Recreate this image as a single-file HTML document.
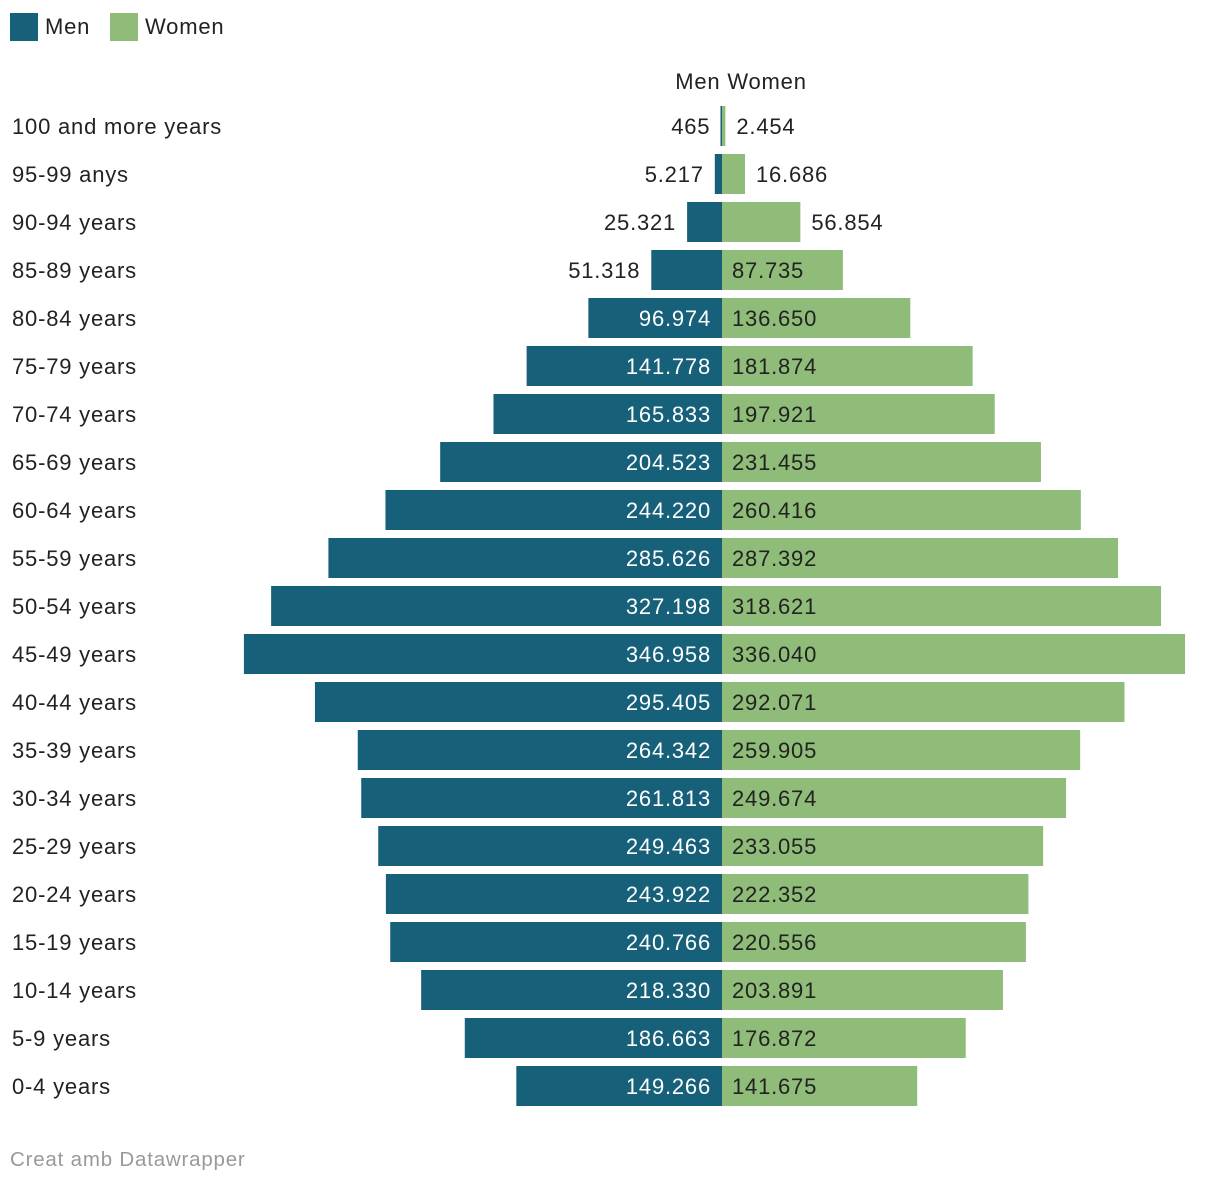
<!DOCTYPE html>
<html><head><meta charset="utf-8"><style>
body{margin:0;background:#fff;font-family:"Liberation Sans",sans-serif;color:#222}
#c{position:relative;width:1220px;height:1184px}
text{letter-spacing:0.8px}
</style></head><body>
<div id="c">
<svg id="s" width="1220" height="1184" xmlns="http://www.w3.org/2000/svg">
<rect x="10" y="13" width="28" height="28" fill="#17607a"/>
<text x="45" y="34" font-size="22" fill="#222">Men</text>
<rect x="110" y="13" width="28" height="28" fill="#8fbc78"/>
<text x="145" y="34" font-size="22" fill="#222">Women</text>
<text x="741" y="89" font-size="22" text-anchor="middle" fill="#222">Men Women</text>
<text x="10" y="1166" font-size="20.5" fill="#999">Creat amb Datawrapper</text>
<g id="bars"></g>
</svg>
</div>
<script>
const categories=["100 and more years","95-99 anys","90-94 years","85-89 years","80-84 years","75-79 years","70-74 years","65-69 years","60-64 years","55-59 years","50-54 years","45-49 years","40-44 years","35-39 years","30-34 years","25-29 years","20-24 years","15-19 years","10-14 years","5-9 years","0-4 years"];
const men=[465,5217,25321,51318,96974,141778,165833,204523,244220,285626,327198,346958,295405,264342,261813,249463,243922,240766,218330,186663,149266];
const women=[2454,16686,56854,87735,136650,181874,197921,231455,260416,287392,318621,336040,292071,259905,249674,233055,222352,220556,203891,176872,141675];
const NS="http://www.w3.org/2000/svg";
const cx=722, k=0.001378, y0=126, step=48, bh=40;
const fmt=v=>v.toLocaleString('de-DE');
const xs=v=>v*k;
const yc=i=>y0+i*step;
const g=document.getElementById('bars');
function mk(t,a){const e=document.createElementNS(NS,t);for(const n in a)e.setAttribute(n,a[n]);g.appendChild(e);return e;}
categories.forEach((c,i)=>{
  const y=yc(i);
  const l=mk('text',{x:12,y:y+8,'font-size':22,fill:'#222'});l.textContent=c;
  
  
  const ww=xs(women[i]);
  const rw=mk('rect',{x:cx,y:y-bh/2,width:Math.max(ww,1.5),height:bh,fill:'#8fbc78'});
  
  
  const wm=xs(men[i]);
  const rm=mk('rect',{x:cx-Math.max(wm,1.5),y:y-bh/2,width:Math.max(wm,1.5),height:bh,fill:'#17607a'});
  
  
  const inM=wm>100;
  const tm=mk('text',{x:inM?cx-11:cx-wm-11,y:y+8,'font-size':22,'text-anchor':'end',fill:inM?'#fff':'#222'});
  tm.textContent=fmt(men[i]);
  
  
  const inW=ww>100;
  const tw=mk('text',{x:inW?cx+10:cx+Math.max(ww,1.5)+11,y:y+8,'font-size':22,fill:'#222'});
  tw.textContent=fmt(women[i]);
  
  
});
</script>
</body></html>
